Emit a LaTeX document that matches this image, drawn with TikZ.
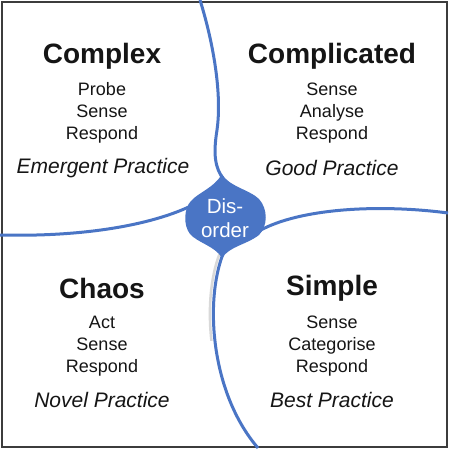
\documentclass[tikz,border=0pt]{standalone}
\usepackage{fontspec}
\setmainfont{Liberation Sans}
\definecolor{cynblue}{HTML}{4A75C5}
\definecolor{frame}{HTML}{3C3C3C}
\definecolor{ink}{HTML}{151515}

\begin{document}
\begin{tikzpicture}[x=1pt, y=-1pt,
    hd/.style={font=\fontsize{28}{30}\selectfont\bfseries, text=ink},
    ac/.style={font=\fontsize{18}{22}\selectfont, align=center, text=ink},
    pr/.style={font=\fontsize{21}{24}\selectfont\itshape, text=ink},
    bd/.style={draw=cynblue, line width=3pt}]
\useasboundingbox (0,0) rectangle (450,450);
\fill[white] (0,0) rectangle (450,450);
\draw[frame, line width=1.6pt] (2,2) rectangle (447,447);
% domain boundaries
\begin{scope}
\clip (150,250) rectangle (240,340);
\draw[gray!30, line width=2.5pt, xshift=-3.5pt] (223,254) .. controls (205,300) and (210,392) .. (258,448);
\end{scope}
\draw[bd] (200,0) .. controls (214,45) and (222,95) .. (217,130) .. controls (213,155) and (215,168) .. (224,180);
\draw[bd] (0,235) .. controls (80,237) and (150,226) .. (193,205);
\draw[bd] (259,231) .. controls (300,208) and (380,204) .. (448,213);
\draw[bd] (223,254) .. controls (205,300) and (210,392) .. (258,448);
% disorder
\fill[cynblue] (222,174) .. controls (228,186) and (250,190) .. (259,199)
  .. controls (268,209) and (268,226) .. (259,235)
  .. controls (246,245) and (230,246) .. (222,258)
  .. controls (215,246) and (198,243) .. (190,234)
  .. controls (183,225) and (184,208) .. (191,201)
  .. controls (199,192) and (214,188) .. (222,174) -- cycle;
\node[font=\fontsize{20.5}{24}\selectfont, text=white, align=center] (dis) at (225,218) {Dis-\\order};
% complex
\node[hd] (cx) at (102,56) {Complex};
\node[ac] (cxa) at (102,113) {Probe\\Sense\\Respond};
\node[pr] (cxp) at (103,168) {Emergent Practice};
% complicated
\node[hd] (cd) at (332,56) {Complicated};
\node[ac] (cda) at (332,113) {Sense\\Analyse\\Respond};
\node[pr] (cdp) at (332,168) {Good Practice};
% chaos
\node[hd] (ch) at (102,288) {Chaos};
\node[ac] (cha) at (102,346) {Act\\Sense\\Respond};
\node[pr] (chp) at (102,400) {Novel Practice};
% simple
\node[hd] (sp) at (332,288) {Simple};
\node[ac] (spa) at (332,346) {Sense\\Categorise\\Respond};
\node[pr] (spp) at (332,400) {Best Practice};
\end{tikzpicture}
\end{document}
